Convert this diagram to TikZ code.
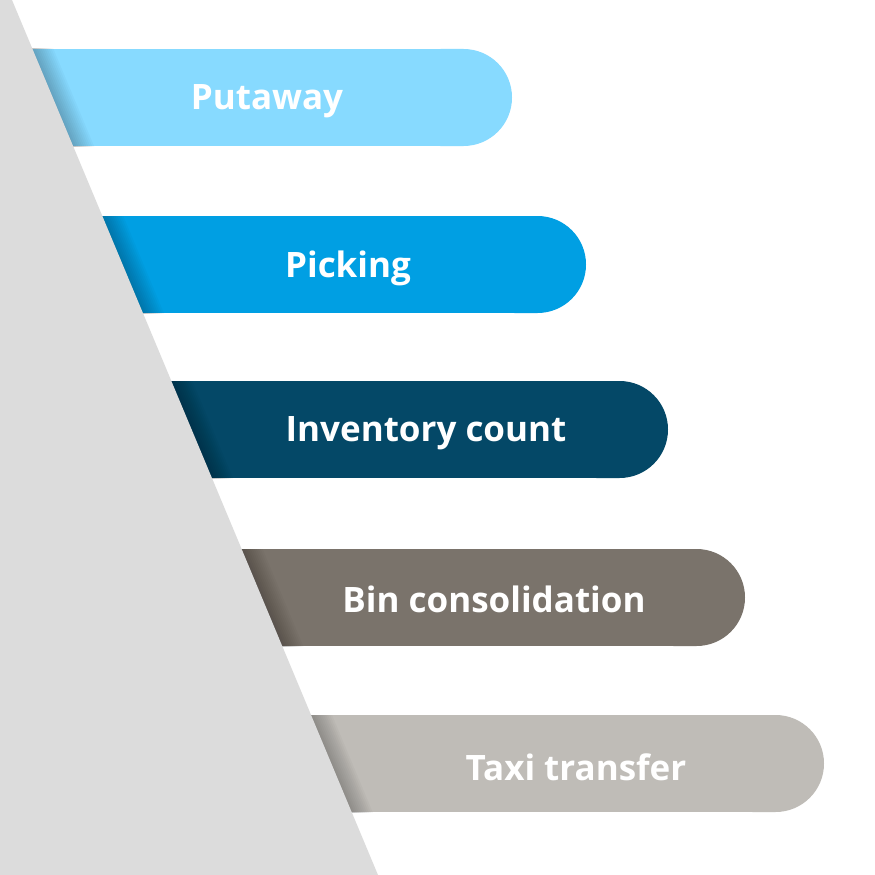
\documentclass[tikz,border=0pt]{standalone}
\usepackage{fontspec}
\setmainfont{Open Sans}
\definecolor{c1}{HTML}{87DAFF}
\definecolor{c2}{HTML}{009FE3}
\definecolor{c3}{HTML}{044867}
\definecolor{c4}{HTML}{7A736B}
\definecolor{c5}{HTML}{BFBCB7}
\definecolor{tri}{HTML}{DCDCDC}
\begin{document}
\begin{tikzpicture}[x=1pt,y=-1pt,
  lbl/.style={text=white,font=\fontsize{35}{35}\selectfont\bfseries,anchor=center}]
\useasboundingbox (0,0) rectangle (875,875);
\fill[white] (0,0) rectangle (875,875);
\foreach \y/\r/\c in {49/512/c1,216/586/c2,381/668/c3,549/745/c4,715/824/c5}{
  \fill[\c] (20,\y) rectangle (\r-60,\y+97);
  \fill[\c,rounded corners=48.5pt] (\r-120,\y) rectangle (\r,\y+97);
  \begin{scope}
  \clip (20,\y) rectangle (\r-60,\y+97);
  \foreach \d in {1,3,...,21}{
    \fill[black,opacity=0.025] (0,0) -- (12+\d,0) -- (378+\d,875) -- (0,875) -- cycle;
  }
  \end{scope}
}
\fill[tri] (0,0) -- (12,0) -- (378,875) -- (0,875) -- cycle;
\node[lbl] (a) at (267,101) {Putaway};
\node[lbl] (b) at (348,268) {Picking};
\node[lbl] (c) at (426,433) {Inventory count};
\node[lbl] (d) at (494,599) {Bin consolidation};
\node[lbl] (e) at (576,767) {Taxi transfer};
\end{tikzpicture}
\end{document}
